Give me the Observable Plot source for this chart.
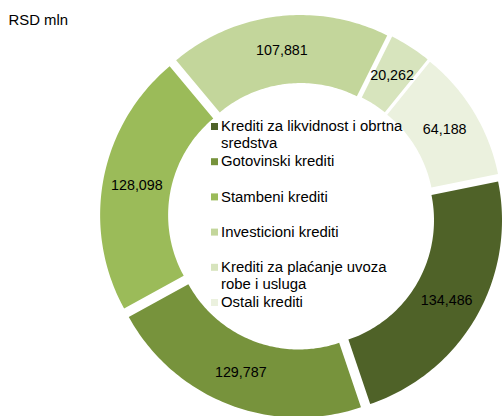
<!DOCTYPE html>
<html><head><meta charset="utf-8">
<script src="https://cdn.jsdelivr.net/npm/d3@7"></script>
<script src="https://cdn.jsdelivr.net/npm/@observablehq/plot@0.6"></script>
<style>html,body{margin:0;padding:0;background:#fff}</style>
</head><body><div id="chart"></div>
<script>
// ---- data ----
const categories = [
  "Krediti za likvidnost i obrtna sredstva",
  "Gotovinski krediti",
  "Stambeni krediti",
  "Investicioni krediti",
  "Krediti za plaćanje uvoza robe i usluga",
  "Ostali krediti"
];
const values = [134486, 129787, 128098, 107881, 20262, 64188];
const colors = ["#4F6228", "#77933C", "#9BBB59", "#C3D69B", "#D7E4BD", "#EBF1DE"];
const unitLabel = "RSD mln";

// ---- layout ----
const W = 503, H = 416;
const cx = 301, cy = 216;          // donut centre in pixels
const R = 194, r = 126, explode = 7.5;
const startDeg = 78.5;
const labelFs = 14.3, legendFs = 14.9, legendLH = 17;
const FONT = "Liberation Sans, Arial, Helvetica, sans-serif";

const a0 = startDeg * Math.PI / 180;
const arcs = d3.pie().sort(null).startAngle(a0).endAngle(a0 + 2 * Math.PI)(values);

const polys = [], labels = [];
arcs.forEach((a, i) => {
  const mid = (a.startAngle + a.endAngle) / 2;
  const ox = explode * Math.sin(mid), oy = -explode * Math.cos(mid);
  const n = Math.max(8, Math.ceil((a.endAngle - a.startAngle) * 180 / Math.PI));
  for (let k = 0; k <= n; k++) {
    const t = a.startAngle + (a.endAngle - a.startAngle) * k / n;
    polys.push({cat: categories[i], x: ox + R * Math.sin(t), y: oy - R * Math.cos(t)});
  }
  for (let k = n; k >= 0; k--) {
    const t = a.startAngle + (a.endAngle - a.startAngle) * k / n;
    polys.push({cat: categories[i], x: ox + r * Math.sin(t), y: oy - r * Math.cos(t)});
  }
  const lr = (R + r) / 2;
  labels.push({x: ox + lr * Math.sin(mid), y: oy - lr * Math.cos(mid), text: d3.format(",")(values[i])});
});

// legend text wrapping by measured width
const ctx = document.createElement("canvas").getContext("2d");
ctx.font = `${legendFs}px "Liberation Sans"`;
function wrap(s, maxW) {
  const words = s.split(" "); const lines = []; let cur = "";
  for (const w of words) {
    const t = cur ? cur + " " + w : w;
    if (cur && ctx.measureText(t).width > maxW) { lines.push(cur); cur = w; } else cur = t;
  }
  if (cur) lines.push(cur);
  return lines.join("\n");
}
const legendX = 214, legendTextX = 220.5, legendTop = 126, legendStep = 35.2;
const legend = categories.map((c, i) => ({
  cat: c,
  label: wrap(c, 188),
  yc: legendTop + i * legendStep - cy
}));
const lhEm = legendLH / legendFs;

const chart = Plot.plot({
  width: W, height: H, margin: 0,
  style: {fontFamily: FONT, background: "#fff"},
  x: {domain: [-cx, W - cx], range: [0, W], axis: null},
  y: {domain: [-cy, H - cy], range: [0, H], axis: null},
  color: {domain: categories, range: colors},
  marks: [
    Plot.line(polys, {x: "x", y: "y", z: "cat", fill: "cat", stroke: "none"}),
    Plot.text(labels, {x: "x", y: "y", text: "text", fontSize: labelFs, fill: "#000", textAnchor: "middle"}),
    Plot.dot(legend, {x: legendX - cx, y: "yc", fill: "cat", symbol: "square", r: 3.95, stroke: "none"}),
    Plot.text(legend, {
      x: legendTextX - cx,
      y: d => d.yc + 0.32 * legendFs - 0.71 * legendLH,
      text: "label", textAnchor: "start", lineAnchor: "top",
      lineHeight: lhEm, fontSize: legendFs, fill: "#000"
    }),
    Plot.text([unitLabel], {x: 8 - cx, y: 19.6 - cy, text: d => d, textAnchor: "start", fontSize: legendFs, fill: "#000"})
  ]
});
document.getElementById("chart").appendChild(chart);
</script>
</body></html>
